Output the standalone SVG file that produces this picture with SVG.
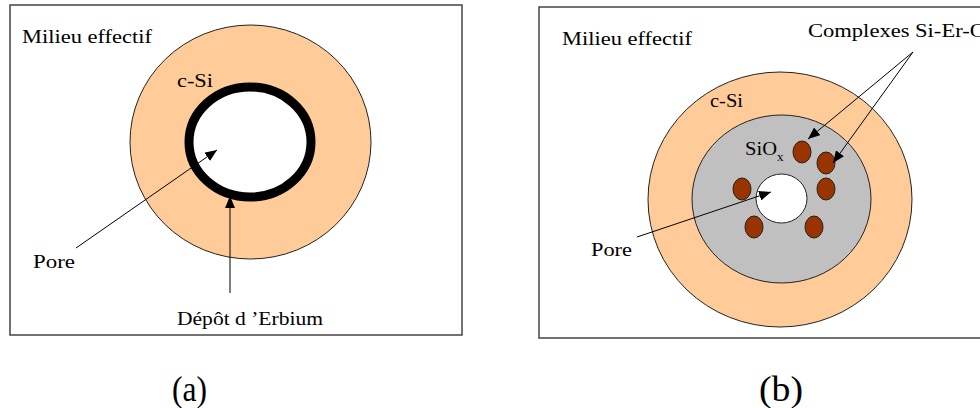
<svg xmlns="http://www.w3.org/2000/svg" width="980" height="408" viewBox="0 0 980 408">
  <defs>
    <marker id="ah" viewBox="0 0 12 10" refX="12" refY="5" markerWidth="12" markerHeight="10" markerUnits="userSpaceOnUse" orient="auto">
      <path d="M0,0 L12,5 L0,10 Z" fill="#000"/>
    </marker>
  </defs>
  <style>
    .frame { fill: #fff; stroke: #444; stroke-width: 1.5; }
    .csi { fill: #FFCC99; stroke: #222; stroke-width: 1; }
    .siox { fill: #C0C0C0; stroke: #222; stroke-width: 1; }
    .pore { fill: #fff; stroke: #222; stroke-width: 1; }
    .er { fill: #993300; stroke: #222; stroke-width: 1; }
    .conn { stroke: #000; stroke-width: 1; fill: none; marker-end: url(#ah); }
    text { font-family: "Liberation Serif", "Times New Roman", serif; fill: #000; }
    .lbl { font-size: 19.5px; }
    .cap { font-size: 36px; }
  </style>
  <rect width="980" height="408" fill="#fff"/>

  <g id="panel-a">
    <rect class="frame" x="10" y="5" width="452" height="330"/>
    <g id="a-milieu"><text class="lbl" x="22" y="43" textLength="130" lengthAdjust="spacingAndGlyphs">Milieu effectif</text></g>
    <g id="a-csi">
      <ellipse class="csi" cx="250.5" cy="142" rx="120.5" ry="117"/>
      <text class="lbl" x="177" y="87" textLength="36" lengthAdjust="spacingAndGlyphs">c-Si</text>
    </g>
    <g id="a-erbium-ring">
      <ellipse cx="250" cy="142" rx="61" ry="55" fill="#fff" stroke="#000" stroke-width="9"/>
    </g>
    <g id="a-pore-label"><text class="lbl" x="33" y="268" textLength="42" lengthAdjust="spacingAndGlyphs">Pore</text></g>
    <g id="a-depot-label"><text class="lbl" x="177" y="325" textLength="146" lengthAdjust="spacingAndGlyphs">Dépôt d ’Erbium</text></g>
  </g>

  <g id="panel-b">
    <rect class="frame" x="539" y="7" width="460" height="331"/>
    <g id="b-milieu"><text class="lbl" x="562" y="45" textLength="130" lengthAdjust="spacingAndGlyphs">Milieu effectif</text></g>
    <g id="b-complexes"><text class="lbl" x="808" y="37" textLength="178" lengthAdjust="spacingAndGlyphs">Complexes Si-Er-O</text></g>
    <g id="b-csi">
      <ellipse class="csi" cx="780" cy="199.5" rx="132" ry="127.5"/>
      <text class="lbl" x="710" y="107" textLength="33" lengthAdjust="spacingAndGlyphs">c-Si</text>
    </g>
    <g id="b-siox">
      <ellipse class="siox" cx="781.5" cy="199" rx="89.5" ry="84"/>
      <text class="lbl" x="745" y="155" textLength="32" lengthAdjust="spacingAndGlyphs">SiO</text>
      <text x="777" y="161" font-size="13">x</text>
    </g>
    <g id="b-pore">
      <ellipse class="pore" cx="781.5" cy="198.5" rx="25.5" ry="24.5"/>
    </g>
    <g id="b-er">
      <ellipse class="er" cx="802" cy="152" rx="9" ry="11"/>
      <ellipse class="er" cx="826" cy="163" rx="9" ry="11"/>
      <ellipse class="er" cx="742" cy="189" rx="9" ry="11"/>
      <ellipse class="er" cx="826" cy="189" rx="9" ry="11"/>
      <ellipse class="er" cx="754" cy="227" rx="9" ry="11"/>
      <ellipse class="er" cx="814" cy="227" rx="9" ry="11"/>
    </g>
    <g id="b-pore-label"><text class="lbl" x="591" y="256" textLength="41" lengthAdjust="spacingAndGlyphs">Pore</text></g>
  </g>

  <g id="connectors">
    <line class="conn" x1="76" y1="248" x2="217" y2="150"/>
    <line class="conn" x1="230" y1="293" x2="230" y2="196"/>
    <line class="conn" x1="913" y1="52" x2="808" y2="139"/>
    <line class="conn" x1="913" y1="52" x2="833" y2="163"/>
    <line class="conn" x1="637" y1="237" x2="771" y2="192"/>
  </g>

  <g id="captions">
    <text class="cap" x="172" y="401" textLength="35" lengthAdjust="spacingAndGlyphs">(a)</text>
    <text class="cap" x="759" y="401" textLength="44" lengthAdjust="spacingAndGlyphs">(b)</text>
  </g>
</svg>
